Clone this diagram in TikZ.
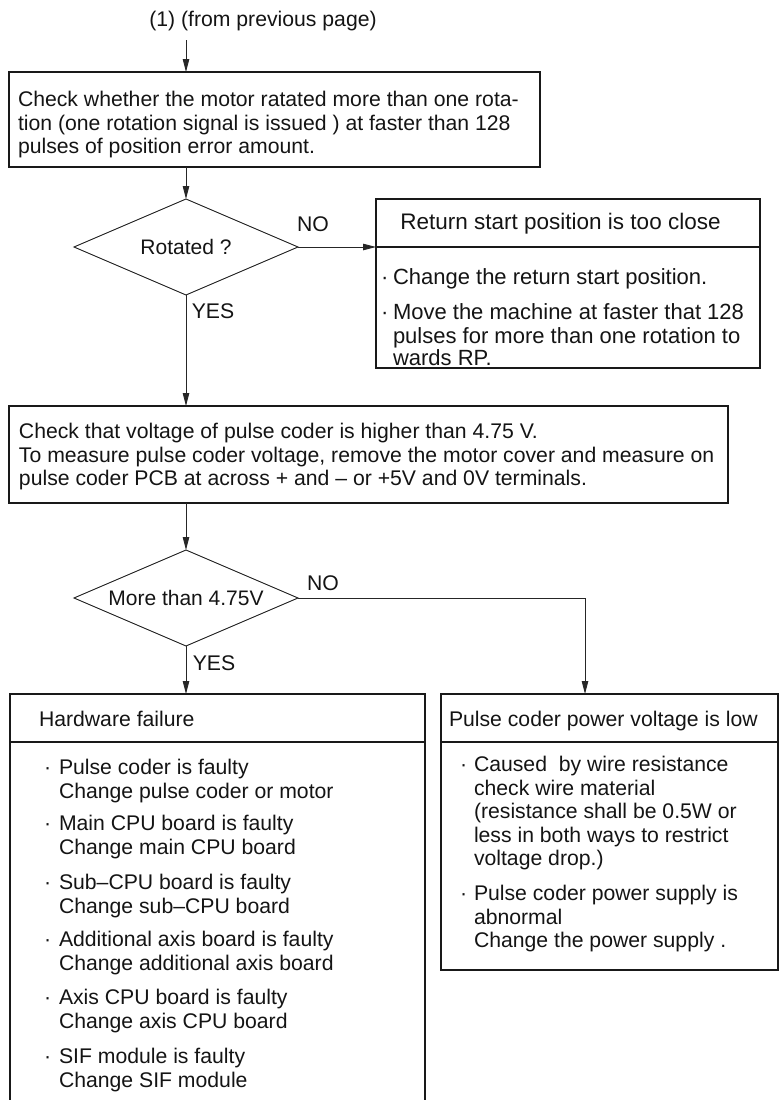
\documentclass[tikz,border=0pt]{standalone}
\usepackage{fontspec}
\setmainfont{Liberation Sans}
\usetikzlibrary{shapes.geometric,arrows.meta}
\begin{document}
\begin{tikzpicture}[x=1pt,y=-1pt,
  txt/.style={font=\fontsize{21.2}{23.5}\selectfont, inner sep=0pt, outer sep=0pt, align=left, text=black!92},
  txtb/.style={font=\fontsize{22}{22}\selectfont, inner sep=0pt, outer sep=0pt, align=left, text=black!92},
  boxn/.style={rectangle, draw=black!90, line width=2.2pt, inner sep=0pt, outer sep=0pt},
  openbox/.style={rectangle, inner sep=0pt, outer sep=0pt},
  border/.style={line width=2.2pt, draw=black!90},
  dec/.style={diamond, aspect=2.333, draw=black!90, line width=0.9pt, inner sep=0pt, outer sep=0pt,
    minimum width=224pt, minimum height=96pt, font=\fontsize{21}{23.5}\selectfont, text=black!92},
  conn/.style={line width=0.9pt, draw=black!85},
  arr/.style={conn, -{Triangle[length=13pt,width=6.5pt]}},
  div/.style={line width=2pt, draw=black!90}
]
\useasboundingbox (0,0) rectangle (780,1100);

% title and first box
\node[txt, anchor=base] (title) at (263,26) {(1) (from previous page)};
\coordinate (s0) at (186,40);
\node[boxn, minimum width=531pt, minimum height=95pt] (b1) at (274.5,119.5) {};
\node[txt, anchor=north west] (b1t) at (18,90.5) {\strut Check whether the motor ratated more than one rota-\\tion (one rotation signal is issued ) at faster than 128\\pulses of position error amount.};

% first decision
\node[dec] (d1) at (186,247) {Rotated ?};
\node[txt, anchor=base] (no1) at (313,231) {NO};
\node[txt, anchor=base] (yes1) at (213,318) {YES};

% return start position box
\node[boxn, minimum width=384pt, minimum height=169pt] (b2) at (568,283.5) {};
\draw[div] ([yshift=-48pt]b2.north west) -- ([yshift=-48pt]b2.north east);
\node[txtb, font=\fontsize{22.5}{22.5}\selectfont, anchor=base] (b2h) at (560.5,229.5) {Return start position is too close};
\node[txtb, anchor=north west] (b2d1) at (381,268.6) {\strut ·};
\node[txtb, anchor=north west] (b2i1) at (393,268.6) {\strut Change the return start position.};
\node[txtb, anchor=north west] (b2d2) at (381,303.6) {\strut ·};
\node[txtb, anchor=north west] (b2i2) at (393,303.6) {\strut Move the machine at faster that 128\\pulses for more than one rotation to\\wards RP.};

% voltage check box
\node[boxn, minimum width=719pt, minimum height=97pt] (b3) at (368.5,454.5) {};
\node[txt, anchor=north west] (b3t) at (19,422.5) {\strut Check that voltage of pulse coder is higher than 4.75 V.\\To measure pulse coder voltage, remove the motor cover and measure on\\pulse coder PCB at across + and – or +5V and 0V terminals.};

% second decision
\node[dec] (d2) at (186,598) {More than 4.75V};
\node[txt, anchor=base] (no2) at (323,590) {NO};
\node[txt, anchor=base] (yes2) at (214,670) {YES};

% hardware failure box (open at the bottom)
\node[openbox, minimum width=415pt, minimum height=408pt] (b4) at (217.5,898) {};
\draw[border] (b4.south west) -- (b4.north west) -- (b4.north east) -- (b4.south east);
\draw[div] ([yshift=-48pt]b4.north west) -- ([yshift=-48pt]b4.north east);
\node[txt, anchor=base west] (b4h) at (39,726) {Hardware failure};
\node[txt, anchor=north west] (b4d1) at (44,758.5) {\strut ·};
\node[txt, anchor=north west] (b4i1) at (59,758.5) {\strut Pulse coder is faulty\\Change pulse coder or motor};
\node[txt, anchor=north west] (b4d2) at (44,814.5) {\strut ·};
\node[txt, anchor=north west] (b4i2) at (59,814.5) {\strut Main CPU board is faulty\\Change main CPU board};
\node[txt, anchor=north west] (b4d3) at (44,873.5) {\strut ·};
\node[txt, anchor=north west] (b4i3) at (59,873.5) {\strut Sub–CPU board is faulty\\Change sub–CPU board};
\node[txt, anchor=north west] (b4d4) at (44,930.5) {\strut ·};
\node[txt, anchor=north west] (b4i4) at (59,930.5) {\strut Additional axis board is faulty\\Change additional axis board};
\node[txt, anchor=north west] (b4d5) at (44,988.5) {\strut ·};
\node[txt, anchor=north west] (b4i5) at (59,988.5) {\strut Axis CPU board is faulty\\Change axis CPU board};
\node[txt, anchor=north west] (b4d6) at (44,1047.5) {\strut ·};
\node[txt, anchor=north west] (b4i6) at (59,1047.5) {\strut SIF module is faulty\\Change SIF module};

% pulse coder power box
\node[boxn, minimum width=337pt, minimum height=276pt] (b5) at (609.5,832) {};
\draw[div] ([yshift=-48pt]b5.north west) -- ([yshift=-48pt]b5.north east);
\node[txt, anchor=base west] (b5h) at (449,726) {Pulse coder power voltage is low};
\node[txt, anchor=north west] (b5d1) at (460,755.5) {\strut ·};
\node[txt, anchor=north west] (b5i1) at (474,755.5) {\strut Caused\ \ by wire resistance\\check wire material\\(resistance shall be 0.5W or\\less in both ways to restrict\\voltage drop.)};
\node[txt, anchor=north west] (b5d2) at (460,884.5) {\strut ·};
\node[txt, anchor=north west] (b5i2) at (474,884.5) {\strut Pulse coder power supply is\\abnormal\\Change the power supply .};
\coordinate (b5in) at (585,694);

% connectors
\draw[arr] (s0) -- (s0 |- b1.north);
\draw[arr] (d1.north |- b1.south) -- (d1.north);
\draw[arr] (d1.east) -- (d1.east -| b2.west);
\draw[arr] (d1.south) -- (d1.south |- b3.north);
\draw[arr] (d2.north |- b3.south) -- (d2.north);
\draw[arr] (d2.south) -- (d2.south |- b4.north);
\draw[arr] (d2.east) -| (b5in);
\end{tikzpicture}
\end{document}
